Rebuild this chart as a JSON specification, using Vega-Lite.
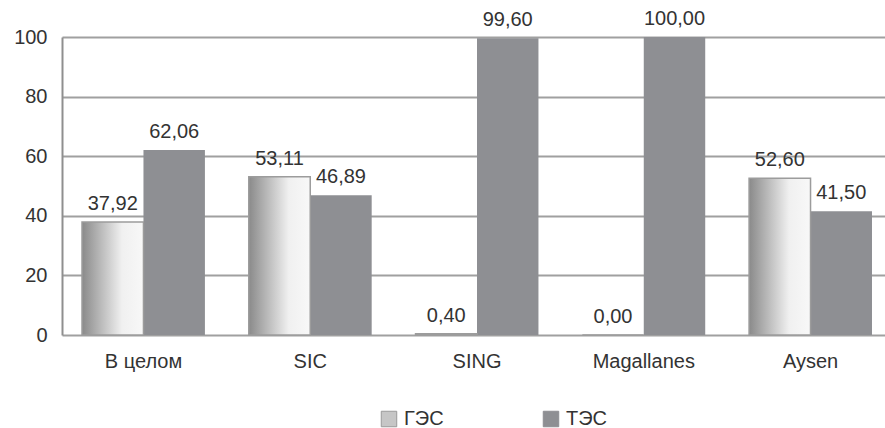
{
  "$schema": "https://vega.github.io/schema/vega-lite/v6.json",
  "width": 823,
  "height": 298,
  "autosize": {"type": "none"},
  "padding": {"left": 62, "top": 37, "right": 0, "bottom": 93},
  "background": "white",
  "data": {
    "values": [
      {"region": "В целом", "type": "ГЭС", "share": 37.92},
      {"region": "В целом", "type": "ТЭС", "share": 62.06},
      {"region": "SIC", "type": "ГЭС", "share": 53.11},
      {"region": "SIC", "type": "ТЭС", "share": 46.89},
      {"region": "SING", "type": "ГЭС", "share": 0.40},
      {"region": "SING", "type": "ТЭС", "share": 99.60},
      {"region": "Magallanes", "type": "ГЭС", "share": 0.00},
      {"region": "Magallanes", "type": "ТЭС", "share": 100.00},
      {"region": "Aysen", "type": "ГЭС", "share": 52.60},
      {"region": "Aysen", "type": "ТЭС", "share": 41.50}
    ]
  },
  "encoding": {
    "x": {
      "field": "region", "type": "nominal", "sort": null, "title": null,
      "scale": {"range": [0, 830], "paddingInner": 0.263, "paddingOuter": 0.12},
      "axis": {"labelAngle": 0, "ticks": false, "domain": false, "labelPadding": 16, "labelFontSize": 20, "labelColor": "#333333"}
    },
    "xOffset": {"field": "type", "type": "nominal", "scale": {"domain": ["ГЭС", "ТЭС"], "paddingInner": 0, "paddingOuter": 0}},
    "y": {
      "field": "share", "type": "quantitative", "title": null,
      "scale": {"domain": [0, 100], "nice": false},
      "axis": {"values": [0, 20, 40, 60, 80, 100], "ticks": false, "labelPadding": 15, "labelFontSize": 20, "labelColor": "#333333", "domainColor": "#8f8f8f", "domainWidth": 2, "gridColor": "#a0a0a0", "gridWidth": 2}
    }
  },
  "layer": [
    {
      "mark": {"type": "bar"},
      "encoding": {
        "color": {
          "field": "type", "type": "nominal",
          "scale": {"domain": ["ГЭС", "ТЭС"], "range": ["#c6c6c6", "#8e8f93"]},
          "legend": {
            "title": null, "orient": "none", "direction": "horizontal",
            "legendX": 317, "legendY": 372,
            "symbolType": "square", "symbolSize": 240, "symbolOpacity": 1,
            "symbolStrokeWidth": 1,
            "labelFontSize": 20, "labelColor": "#333333", "labelOffset": 5,
            "columnPadding": 97,
            "encode": {
              "symbols": {
                "update": {
                  "fill": {"signal": "datum.value === 'ГЭС' ? {gradient: 'linear', x1: 0, y1: 0, x2: 1, y2: 0, stops: [{offset: 0, color: '#8a8a8a'}, {offset: 0.65, color: '#f0f0f0'}, {offset: 1, color: '#f8f8f8'}]} : '#8e8f93'"},
                  "stroke": {"signal": "datum.value === 'ГЭС' ? '#9a9a9a' : '#8e8f93'"}
                }
              }
            }
          }
        }
      }
    },
    {
      "transform": [{"filter": "datum.type === 'ГЭС'"}],
      "mark": {
        "type": "bar",
        "stroke": "#9c9c9c",
        "strokeWidth": 1.5,
        "fill": {"gradient": "linear", "x1": 0, "y1": 0, "x2": 1, "y2": 0, "stops": [{"offset": 0, "color": "#8a8a8a"}, {"offset": 0.65, "color": "#f0f0f0"}, {"offset": 1, "color": "#f8f8f8"}]}
      }
    },
    {
      "mark": {"type": "text", "baseline": "alphabetic", "dy": -12, "fontSize": 20, "color": "#333333"},
      "encoding": {
        "text": {"field": "share", "type": "quantitative", "format": ".2f"}
      }
    }
  ],
  "config": {
    "font": "Liberation Sans",
    "view": {"stroke": null},
    "locale": {"number": {"decimal": ",", "thousands": " ", "grouping": [3], "currency": ["", ""]}}
  }
}
